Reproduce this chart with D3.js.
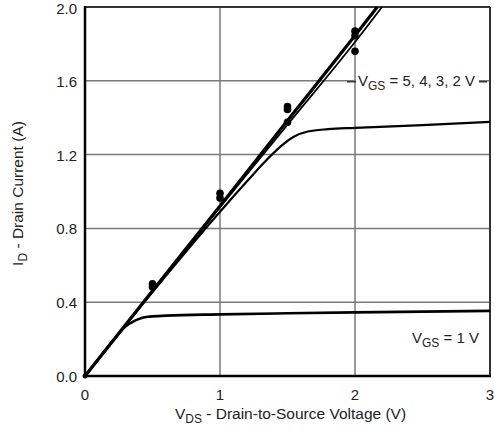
<html>
<script src="https://d3js.org/d3.v7.min.js"></script>
<style>
body{margin:0;background:#fff;}
svg{font-family:"Liberation Sans",Arial,sans-serif;}
</style>
<div id="chart"></div>
<script>
const width = 495;
const height = 434;
const margin = { top: 7, left: 85, bottom: 58, right: 5 };

const xTicks = [0, 1, 2, 3];
const yTicks = [0, 0.4, 0.8, 1.2, 1.6, 2.0];

// V_DS (V) / I_D (A)
const vgs5 = [[0,0],[0.5,0.462],[1,0.922],[1.5,1.385],[2,1.845],[2.165,2.0]];
const vgs4 = [[0,0],[0.5,0.46],[1,0.915],[1.5,1.362],[2,1.81],[2.2,2.0]];
const vgs2 = [[0,0],[0.5,0.455],[1,0.89],[1.2,1.055],[1.35,1.175],[1.45,1.245],[1.55,1.298],[1.65,1.325],[1.8,1.338],[2,1.345],[2.5,1.36],[3,1.377]];
const vgs1 = [[0,0],[0.1,0.092],[0.2,0.184],[0.3,0.268],[0.37,0.3],[0.42,0.315],[0.48,0.322],[0.6,0.327],[1,0.334],[1.5,0.34],[2,0.345],[2.5,0.349],[3,0.353]];
const dots = [[0.5,0.5],[0.5,0.483],[1,0.99],[1,0.965],[1.5,1.46],[1.5,1.445],[1.5,1.375],[2,1.87],[2,1.845],[2,1.76]];

const x = d3.scaleLinear().domain([0, 3]).range([margin.left, width - margin.right]);
const y = d3.scaleLinear().domain([0, 2]).range([height - margin.bottom, margin.top]);

const svg = d3.select('#chart').append('svg')
  .attr('width', width)
  .attr('height', height);

// grid
svg.append('g').selectAll('line')
  .data(xTicks.slice(1, -1))
  .enter().append('line')
    .attr('x1', d => x(d)).attr('x2', d => x(d))
    .attr('y1', y(0)).attr('y2', y(2))
    .attr('stroke', '#7a7a7a').attr('stroke-width', 1.5);
svg.append('g').selectAll('line')
  .data(yTicks.slice(1, -1))
  .enter().append('line')
    .attr('x1', x(0)).attr('x2', x(3))
    .attr('y1', d => y(d)).attr('y2', d => y(d))
    .attr('stroke', '#7a7a7a').attr('stroke-width', 1.5);

// label box for VGS = 5,4,3,2 (breaks the grid)
const lab = svg.append('g');
lab.append('rect')
  .attr('x', x(2) + 1).attr('y', y(1.6) - 15)
  .attr('width', 123).attr('height', 28)
  .attr('fill', '#fff');
lab.append('line')
  .attr('x1', x(2) - 8).attr('x2', x(2) + 1)
  .attr('y1', y(1.6) + 1).attr('y2', y(1.6) + 1)
  .attr('stroke', '#222').attr('stroke-width', 1.3);
lab.append('line')
  .attr('x1', x(2) + 124).attr('x2', x(3) - 3)
  .attr('y1', y(1.6) + 1).attr('y2', y(1.6) + 1)
  .attr('stroke', '#222').attr('stroke-width', 1.3);
const t1 = lab.append('text')
  .attr('x', x(2) + 3).attr('y', y(1.6) + 5)
  .attr('font-size', 15).attr('fill', '#222');
t1.append('tspan').text('V');
t1.append('tspan').attr('dy', 4).attr('font-size', 12).text('GS');
t1.append('tspan').attr('dy', -4).text(' = 5, 4, 3, 2 V');

// frame
svg.append('line')
  .attr('x1', x(0)).attr('x2', x(3)).attr('y1', y(2)).attr('y2', y(2))
  .attr('stroke', '#333').attr('stroke-width', 2);
svg.append('line')
  .attr('x1', x(3)).attr('x2', x(3)).attr('y1', y(2)).attr('y2', y(0))
  .attr('stroke', '#333').attr('stroke-width', 2);
svg.append('line')
  .attr('x1', x(0)).attr('x2', x(0)).attr('y1', y(2) - 1).attr('y2', y(0))
  .attr('stroke', '#000').attr('stroke-width', 2.5);
svg.append('line')
  .attr('x1', x(0)).attr('x2', x(3) + 1).attr('y1', y(0)).attr('y2', y(0))
  .attr('stroke', '#000').attr('stroke-width', 2.5);

// curves
const line = d3.line()
  .x(d => x(d[0]))
  .y(d => y(d[1]))
  .curve(d3.curveMonotoneX);

const curves = [
  { data: vgs1, w: 2.6 },
  { data: vgs2, w: 2.2 },
  { data: vgs4, w: 1.8 },
  { data: vgs5, w: 3.2 }
];
svg.append('g').selectAll('path')
  .data(curves)
  .enter().append('path')
    .attr('d', d => line(d.data))
    .attr('fill', 'none')
    .attr('stroke', '#000')
    .attr('stroke-width', d => d.w)
    .attr('stroke-linejoin', 'round');

svg.append('g').selectAll('circle')
  .data(dots)
  .enter().append('circle')
    .attr('cx', d => x(d[0]))
    .attr('cy', d => y(d[1]))
    .attr('r', 3.8)
    .attr('fill', '#000');

svg.append('circle')
  .attr('cx', x(0)).attr('cy', y(0)).attr('r', 2.5).attr('fill', '#000');

// tick labels
svg.append('g').selectAll('text')
  .data(yTicks)
  .enter().append('text')
    .attr('x', x(0) - 8)
    .attr('y', d => Math.max(y(d) + 6, 14))
    .attr('text-anchor', 'end')
    .attr('font-size', 15)
    .attr('fill', '#222')
    .text(d => d.toFixed(1));
svg.append('g').selectAll('text')
  .data(xTicks)
  .enter().append('text')
    .attr('x', d => x(d))
    .attr('y', y(0) + 24)
    .attr('text-anchor', 'middle')
    .attr('font-size', 15)
    .attr('fill', '#222')
    .text(d => d);

// VGS = 1 V label
const t2 = svg.append('text')
  .attr('x', 412).attr('y', y(0.18))
  .attr('font-size', 15).attr('fill', '#222');
t2.append('tspan').text('V');
t2.append('tspan').attr('dy', 4).attr('font-size', 12).text('GS');
t2.append('tspan').attr('dy', -4).text(' = 1 V');

// axis titles
const xt = svg.append('text')
  .attr('x', (x(0) + x(3)) / 2 + 3).attr('y', 419)
  .attr('text-anchor', 'middle')
  .attr('font-size', 15.5).attr('fill', '#222');
xt.append('tspan').text('V');
xt.append('tspan').attr('dy', 4).attr('font-size', 12).text('DS');
xt.append('tspan').attr('dy', -4).text(' - Drain-to-Source Voltage (V)');

const yt = svg.append('text')
  .attr('transform', `translate(23,${(y(0) + y(2)) / 2 + 2}) rotate(-90)`)
  .attr('text-anchor', 'middle')
  .attr('font-size', 15.5).attr('fill', '#222');
yt.append('tspan').text('I');
yt.append('tspan').attr('dy', 4).attr('font-size', 12).text('D');
yt.append('tspan').attr('dy', -4).text(' - Drain Current (A)');
</script>
</html>
